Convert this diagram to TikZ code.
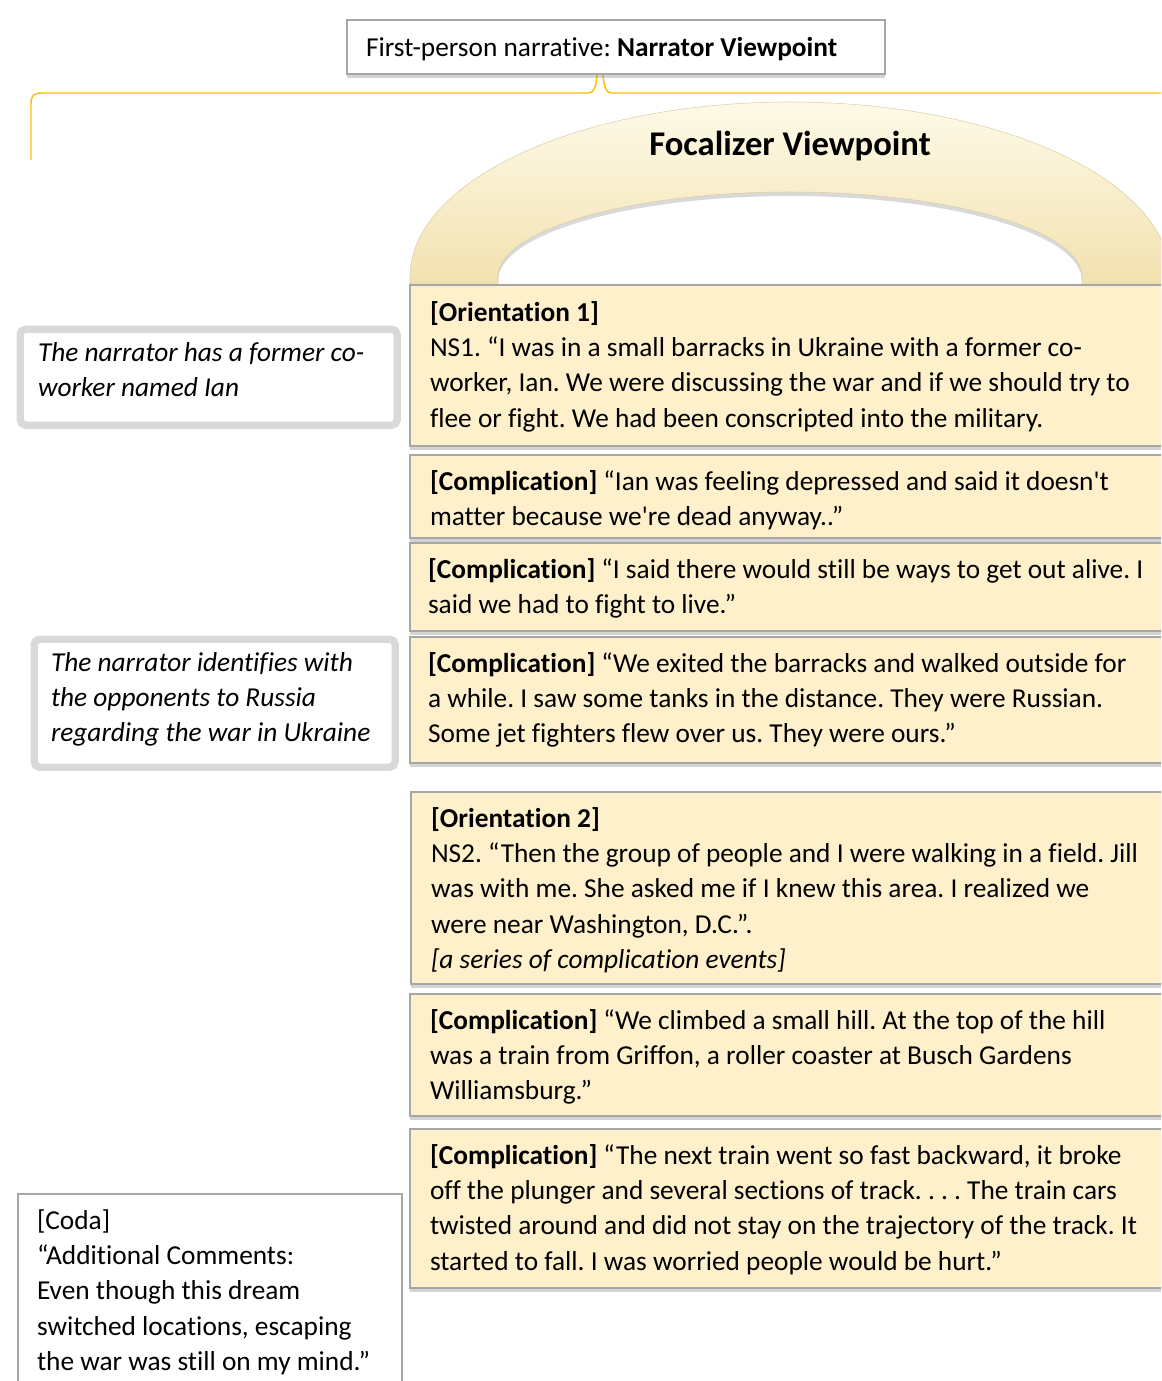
\documentclass[tikz,border=0pt]{standalone}
\usepackage{fontspec}
\setmainfont{Carlito}[Ligatures={TeX,NoCommon}]
\usetikzlibrary{shadows,calc}
\definecolor{boxfill}{HTML}{FFF0CC}
\definecolor{boxgray}{HTML}{A6A6A6}
\definecolor{softgray}{HTML}{D9D9D9}
\definecolor{gold}{HTML}{FFC000}
\definecolor{archtop}{HTML}{FEFAE8}
\definecolor{archbot}{HTML}{F2E2B0}
\newcommand\pxu{0.75pt}
\frenchspacing
\begin{document}
\begin{tikzpicture}[x=0.75pt,y=-0.75pt,
  rbox/.style={draw=boxgray, line width=1.8pt, fill=boxfill, inner sep=0pt, anchor=north west,
    drop shadow={shadow xshift=0pt, shadow yshift=-2.5pt, opacity=0.35}},
  wbox/.style={draw=boxgray, line width=1.8pt, fill=white, inner sep=0pt, anchor=north west,
    drop shadow={shadow xshift=0pt, shadow yshift=-2.5pt, opacity=0.35}},
  sbox/.style={draw=softgray, line width=5.5pt, rounded corners=4pt, fill=white, inner sep=0pt, anchor=north west,
    drop shadow={shadow xshift=0pt, shadow yshift=-2pt, opacity=0.15}},
  txt/.style={anchor=north west, inner sep=0pt, outer sep=0pt, align=left,
    font=\fontsize{20.5}{26.5}\selectfont, execute at begin node=\rule{0pt}{20pt}, yshift=14.75pt},
]
\useasboundingbox (0,0) rectangle (1161,1381);
\clip (0,0) rectangle (1161,1381);

% brace
\coordinate (bl) at (31,160);
\coordinate (br) at (1170,93);
\draw[gold, line width=1.1pt] (bl) -- (31,104) .. controls (31,96) and (33,93) .. (42,93)
  -- (588,93) .. controls (594,93) and (596,88) .. (597,74) -- (600,66) -- (603,74)
  .. controls (604,88) and (606,93) .. (612,93) -- (br);

% top box
\node[wbox, minimum width=538*\pxu, minimum height=54*\pxu] (top) at (346,19) {};
\node[txt] (toptxt) at (366,49) {First-person narrative: \textbf{Narrator Viewpoint}};

% arch
\path[top color=archtop, bottom color=archbot, draw=archbot!80!gray, line width=0.4pt,
      drop shadow={shadow xshift=0pt, shadow yshift=-3pt, opacity=0.3}]
  (410,284) -- (410,277) arc[start angle=180, end angle=360, x radius=380, y radius=175]
  -- (1170,284) -- (1082,284) -- (1082,277)
  arc[start angle=360, end angle=180, x radius=292, y radius=85]
  -- (498,284) -- cycle;
\node[font=\fontsize{26}{30}\selectfont\bfseries, anchor=base, inner sep=0pt] (foc) at (790,155) {Focalizer Viewpoint};

% right boxes
\node[rbox, minimum width=766*\pxu, minimum height=161*\pxu] (b1) at (409,284) {};
\node[rbox, minimum width=766*\pxu, minimum height=83*\pxu] (b2) at (409,454) {};
\node[rbox, minimum width=766*\pxu, minimum height=88*\pxu] (b3) at (409,542) {};
\node[rbox, minimum width=766*\pxu, minimum height=126*\pxu] (b4) at (409,636) {};
\node[rbox, minimum width=766*\pxu, minimum height=192*\pxu] (b5) at (410,791) {};
\node[rbox, minimum width=766*\pxu, minimum height=122*\pxu] (b6) at (409,993) {};
\node[rbox, minimum width=766*\pxu, minimum height=159*\pxu] (b7) at (409,1128) {};

% left boxes
\node[sbox, minimum width=377*\pxu, minimum height=96*\pxu] (l1) at (16.5,325.5) {};
\node[sbox, minimum width=361*\pxu, minimum height=128*\pxu] (l2) at (30.5,635.5) {};
\node[wbox, minimum width=384*\pxu, minimum height=220*\pxu] (coda) at (17,1193) {};

% texts
\node[txt] (t1) at (430,321) {\textbf{[Orientation 1]}\\
NS1. “I was in a small barracks in Ukraine with a former co-\\
worker, Ian. We were discussing the war and if we should try to\\
flee or fight. We had been conscripted into the military.};
\node[txt] (t2) at (430,490) {\textbf{[Complication]} “Ian was feeling depressed and said it doesn\textquotesingle t\\
matter because we\textquotesingle re dead anyway..”};
\node[txt] (t3) at (428,578) {\textbf{[Complication]} “I said there would still be ways to get out alive. I\\
said we had to fight to live.”};
\node[txt] (t4) at (428,672) {\textbf{[Complication]} “We exited the barracks and walked outside for\\
a while. I saw some tanks in the distance. They were Russian.\\
Some jet fighters flew over us. They were ours.”};
\node[txt] (t5) at (431,827) {\textbf{[Orientation 2]}\\
NS2. “Then the group of people and I were walking in a field. Jill\\
was with me. She asked me if I knew this area. I realized we\\
were near Washington, D.C.”.\\
\textit{[a series of complication events]}};
\node[txt] (t6) at (430,1029) {\textbf{[Complication]} “We climbed a small hill. At the top of the hill\\
was a train from Griffon, a roller coaster at Busch Gardens\\
Williamsburg.”};
\node[txt] (t7) at (430,1164) {\textbf{[Complication]} “The next train went so fast backward, it broke\\
off the plunger and several sections of track. . . . The train cars\\
twisted around and did not stay on the trajectory of the track. It\\
started to fall. I was worried people would be hurt.”};

\node[txt, font=\fontsize{20.5}{26.5}\selectfont\itshape] (lt1) at (38,362) {The narrator has a former co-\\
worker named Ian};
\node[txt, font=\fontsize{20.5}{26.5}\selectfont\itshape] (lt2) at (51,672) {The narrator identifies with\\
the opponents to Russia\\
regarding the war in Ukraine};
\node[txt] (ct) at (37,1229) {[Coda]\\
“Additional Comments:\\
Even though this dream\\
switched locations, escaping\\
the war was still on my mind.”};
\end{tikzpicture}
\end{document}
